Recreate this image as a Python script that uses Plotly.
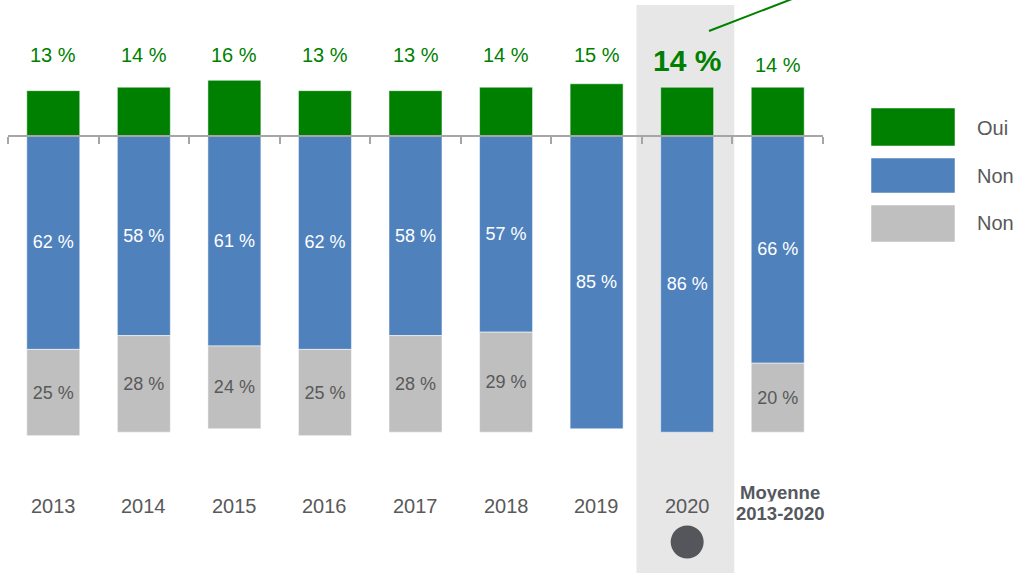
import plotly.graph_objects as go

categories = ["2013", "2014", "2015", "2016", "2017", "2018", "2019", "2020", "Moyenne 2013-2020"]
tick_labels = ["2013", "2014", "2015", "2016", "2017", "2018", "2019", "2020", "Moyenne<br>2013-2020"]
oui = [13, 14, 16, 13, 13, 14, 15, 14, 14]
non_bleu = [62, 58, 61, 62, 58, 57, 85, 86, 66]
non_gris = [25, 28, 24, 25, 28, 29, None, None, 20]
legend_names = ["Oui", "Non", "Non"]

GREEN = "#008000"
BLUE = "#4F81BD"
GREY = "#BFBFBF"
TXT = "#595959"
FONT = "Liberation Sans"

W, H = 1013, 573
L, R = 8, 823
ZERO_PX = 135.5
PX_PER = 3.45

def px(xp):
    return (xp - L) / (R - L)

def py(yp):
    return 1 - yp / H

y_top = ZERO_PX / PX_PER
y_bot = y_top - H / PX_PER

fig = go.Figure()
edge = dict(color="rgba(255,255,255,0.5)", width=1)
fig.add_bar(x=categories, y=oui, marker=dict(color=GREEN, line=edge), name=legend_names[0],
            hoverinfo="skip")
fig.add_bar(x=categories, y=[-v for v in non_bleu], marker=dict(color=BLUE, line=edge),
            name=legend_names[1], text=[f"{v} %" for v in non_bleu],
            textposition="inside", insidetextanchor="middle",
            textfont=dict(color="white", size=18, family=FONT), hoverinfo="skip")
fig.add_bar(x=categories, y=[(-v if v is not None else None) for v in non_gris],
            marker=dict(color=GREY, line=edge), name=legend_names[2],
            text=[(f"{v} %" if v is not None else "") for v in non_gris],
            textposition="inside", insidetextanchor="middle",
            textfont=dict(color=TXT, size=18, family=FONT), hoverinfo="skip")

shapes = []
# highlight band behind 2020
shapes.append(dict(type="rect", xref="x", yref="paper", x0=6.44, x1=7.52, y0=0, y1=py(5),
                   fillcolor="#E7E7E7", line=dict(width=0), layer="below"))
# green pointer line
shapes.append(dict(type="line", xref="paper", yref="paper", x0=px(709), y0=py(31),
                   x1=px(792), y1=py(-1), line=dict(color=GREEN, width=2)))
# dark circle under 2020
shapes.append(dict(type="circle", xref="x", yref="paper", xsizemode="pixel", ysizemode="pixel",
                   xanchor=7, yanchor=py(542), x0=-16.5, x1=16.5, y0=-16.5, y1=16.5,
                   fillcolor="#54565B", line=dict(width=0)))
# legend swatches
for (y0, y1), col in zip([(108, 146), (158, 193), (205, 242)], [GREEN, BLUE, GREY]):
    shapes.append(dict(type="rect", xref="paper", yref="paper", x0=px(871), x1=px(955),
                       y0=py(y1), y1=py(y0), fillcolor=col,
                       line=dict(color="rgba(255,255,255,0.5)", width=1)))

ann = []
# green labels above bars
for i, v in enumerate(oui):
    if i < 7:
        ann.append(dict(x=i, y=py(55), text=f"{v} %", font=dict(color=GREEN, size=20, family=FONT)))
    elif i == 7:
        ann.append(dict(x=i, y=py(61), text=f"<b>{v} %</b>", font=dict(color=GREEN, size=30, family=FONT)))
    else:
        ann.append(dict(x=i, y=py(65), text=f"{v} %", font=dict(color=GREEN, size=20, family=FONT)))
# category labels
for i, t in enumerate(tick_labels):
    if i < 8:
        ann.append(dict(x=i, y=py(506), text=t, font=dict(color=TXT, size=20, family=FONT)))
    else:
        for j, line in enumerate(t.split("<br>")):
            ann.append(dict(x=i + 0.02, y=py(492 + 21 * j), text=f"<b>{line}</b>", bgcolor="white",
                            font=dict(color="#55585E", size=18.5, family=FONT)))
for a in ann:
    a.update(xref="x", yref="paper", showarrow=False, xanchor="center", yanchor="middle")
# legend labels
for name, yc in zip(legend_names, [128, 176, 223]):
    ann.append(dict(xref="paper", yref="paper", x=px(975), y=py(yc), text=name, showarrow=False,
                    xanchor="left", yanchor="middle", font=dict(color=TXT, size=20, family=FONT)))

fig.update_layout(
    width=W, height=H, barmode="relative", bargap=0.415,
    margin=dict(l=L, r=W - R, t=0, b=0),
    paper_bgcolor="white", plot_bgcolor="rgba(0,0,0,0)",
    showlegend=False, shapes=shapes, annotations=ann,
    font=dict(family=FONT),
    xaxis=dict(range=[-0.5, 8.5], anchor="free", position=py(ZERO_PX), showline=True,
               linecolor="#A6A6A6", linewidth=2, ticks="outside", tickson="boundaries",
               ticklen=7, tickwidth=2, tickcolor="#A6A6A6", showticklabels=False,
               showgrid=False, zeroline=False, fixedrange=True),
    yaxis=dict(range=[y_bot, y_top], visible=False, showgrid=False, zeroline=False, fixedrange=True),
)

fig.write_html("out.html", config={"displayModeBar": False},
               post_script="document.body.style.margin='0';document.body.style.overflow='hidden';")
